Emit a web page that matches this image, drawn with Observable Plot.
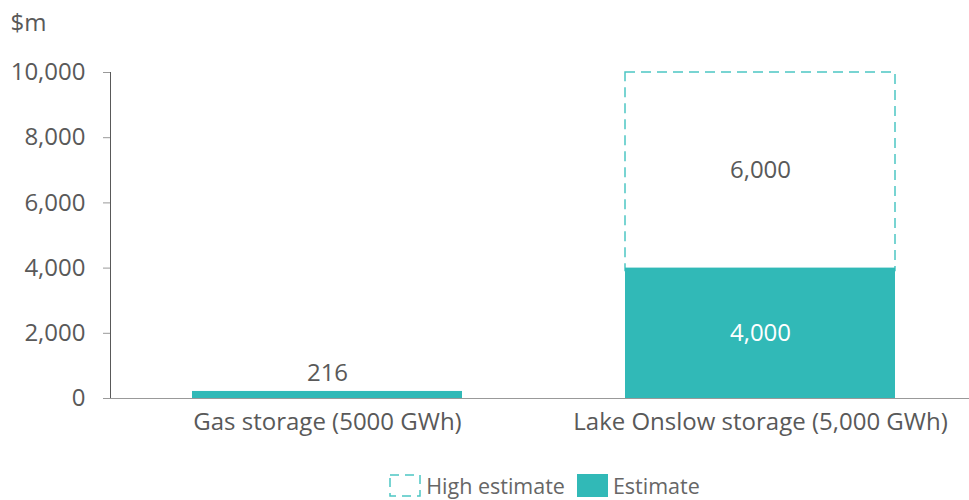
<!DOCTYPE html>
<html>
<head>
<meta charset="utf-8">
<script src="https://cdn.jsdelivr.net/npm/d3@7"></script>
<script src="https://cdn.jsdelivr.net/npm/@observablehq/plot@0.6"></script>
<style>
  body { margin: 0; background: #fff; font-family: "Open Sans", sans-serif; }
  #chart { position: relative; width: 969px; }
  .legend { display: flex; justify-content: center; align-items: center; gap: 12px; font-size: 21.5px; color: #666; margin-top: 16px; padding-left: 120px; }
  .legend .item { display: flex; align-items: center; gap: 5px; }
  .legend svg { display: block; }
</style>
</head>
<body>
<div id="chart"></div>
<script>
const categories = ["Gas storage (5000 GWh)", "Lake Onslow storage (5,000 GWh)"];
const estimate = [216, 4000];
const highExtra = [0, 6000];
const yTicks = [0, 2000, 4000, 6000, 8000, 10000];

const teal = "#31b9b7";
const dashColor = "#4cc6c3";
const textColor = "#595959";

const rows = categories.map((c, i) => ({cat: c, est: estimate[i], high: highExtra[i]}));
const highRows = rows.filter(d => d.high > 0);

const fmt = d3.format(",");
const fs = 24;

const plot = Plot.plot({
  width: 969,
  height: 455,
  marginLeft: 110,
  marginRight: 0,
  marginTop: 72,
  marginBottom: 57,
  style: {fontFamily: "Open Sans", fontSize: fs + "px", color: textColor, background: "#fff"},
  x: {domain: categories, range: [110, 978], paddingInner: 0.376, paddingOuter: 0.19, label: null, tickSize: 0, tickPadding: 14},
  y: {domain: [0, 10000], ticks: yTicks, tickFormat: fmt, label: null, tickSize: 7, tickPadding: 18, line: true},
  marks: [
    Plot.rectY(highRows, {x: "cat", y1: d => d.est, y2: d => d.est + d.high, insetBottom: -3, fill: "none", stroke: dashColor, strokeWidth: 1.5, strokeDasharray: "10,6"}),
    Plot.barY(rows, {x: "cat", y: "est", fill: teal}),
    Plot.ruleY([0], {stroke: "#999", strokeWidth: 1.2}),
    Plot.text(rows.filter(d => d.est < 1000), {x: "cat", y: "est", text: d => fmt(d.est), dy: -18, fill: textColor, fontSize: fs}),
    Plot.text(rows.filter(d => d.est >= 1000), {x: "cat", y: d => d.est / 2, text: d => fmt(d.est), fill: "#fff", fontSize: fs}),
    Plot.text(highRows, {x: "cat", y: d => d.est + d.high / 2, text: d => fmt(d.high), fill: textColor, fontSize: fs}),
    Plot.text(["$m"], {frameAnchor: "top-left", text: d => d, dx: -100, dy: -59, textAnchor: "start", fill: textColor, fontSize: fs})
  ]
});
plot.querySelectorAll("[aria-label='y-axis tick'], [aria-label='y-axis'] line, [aria-label='y-axis'] path").forEach(e => e.setAttribute("stroke", "#999"));
document.getElementById("chart").appendChild(plot);

const legend = document.createElement("div");
legend.className = "legend";
legend.innerHTML = `<div class="item"><svg width="32" height="23"><rect x="1" y="1" width="30" height="21" fill="none" stroke="${dashColor}" stroke-width="1.5" stroke-dasharray="9,6"/></svg><span>High estimate</span></div><div class="item"><svg width="31" height="23"><rect x="0" y="0" width="31" height="23" fill="${teal}"/></svg><span>Estimate</span></div>`;
document.getElementById("chart").appendChild(legend);
</script>
</body>
</html>
